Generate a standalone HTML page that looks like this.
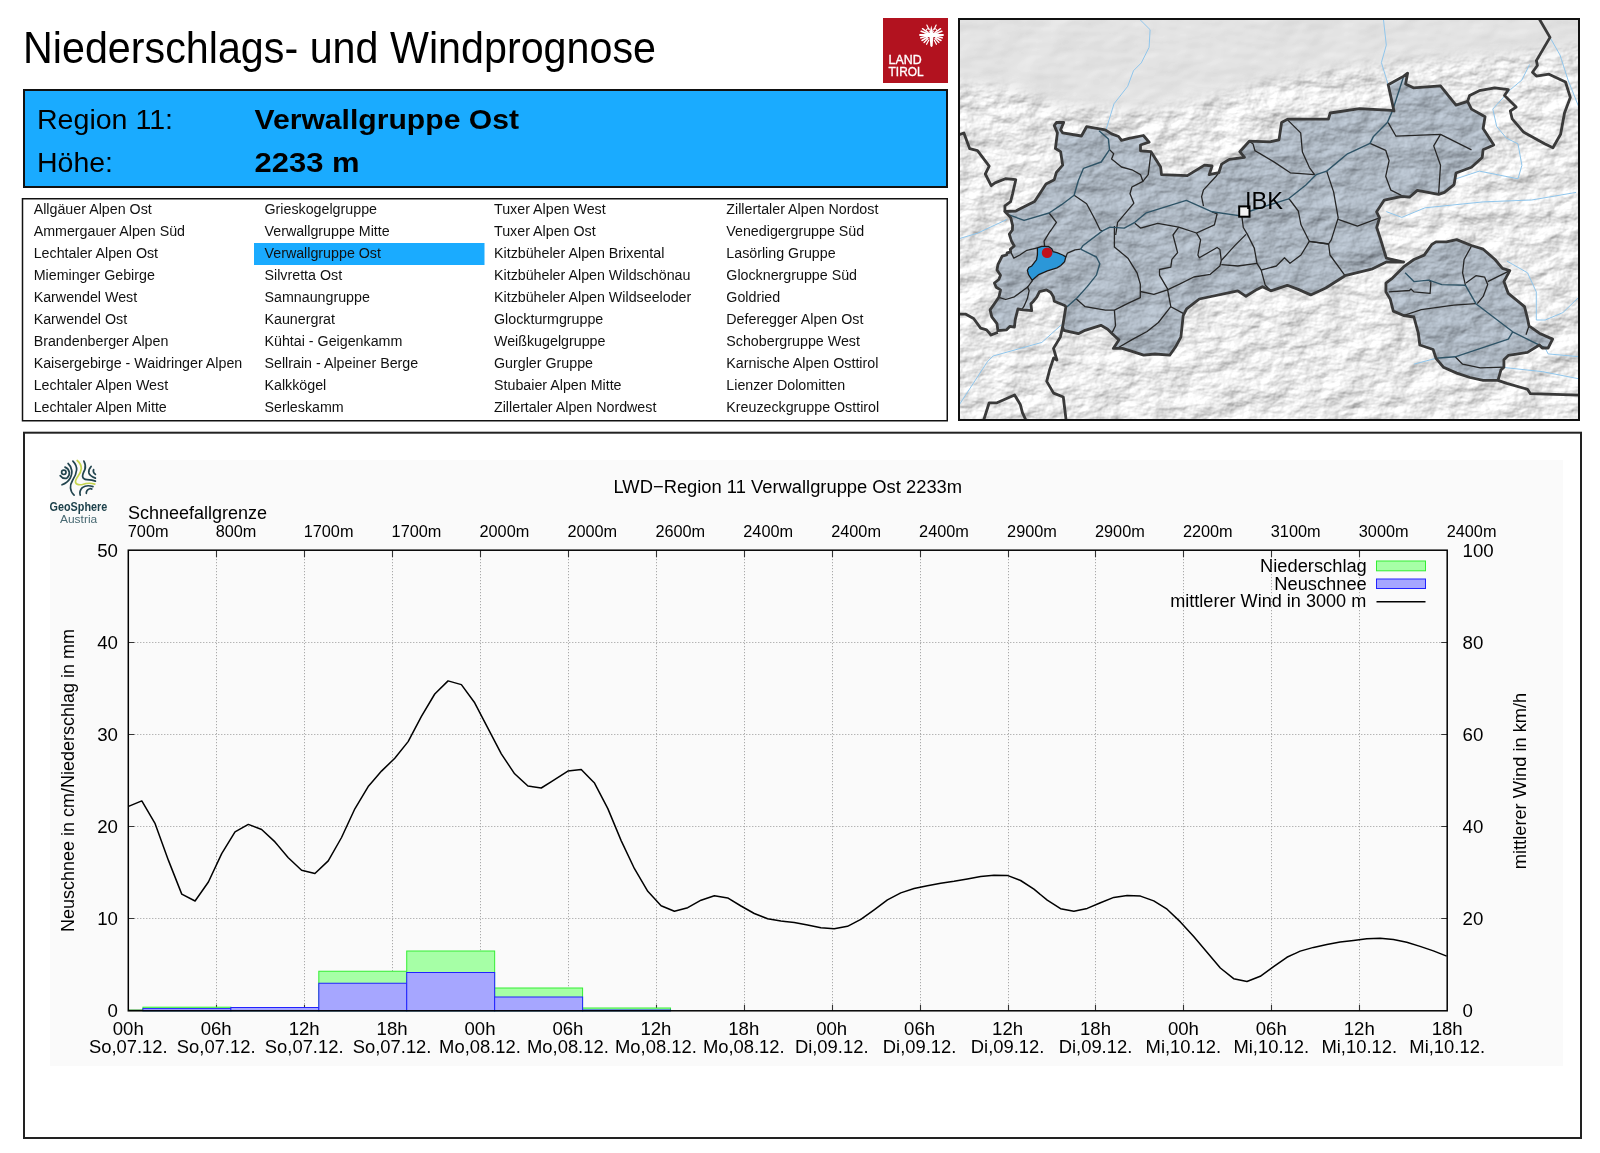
<!DOCTYPE html>
<html><head><meta charset="utf-8"><title>Niederschlags- und Windprognose</title>
<style>
html,body{margin:0;padding:0;background:#fff;width:1600px;height:1153px;overflow:hidden}
svg{display:block;will-change:transform}
text{font-family:"Liberation Sans", sans-serif}
</style></head><body>
<svg width="1600" height="1153" viewBox="0 0 1600 1153">

<text x="23" y="63" font-size="44.6" textLength="633" lengthAdjust="spacingAndGlyphs">Niederschlags- und Windprognose</text>
<rect x="883" y="18" width="65" height="65" fill="#b2121f"/>
<text x="888.6" y="64.2" font-size="12.6" fill="#fff" stroke="#fff" stroke-width="0.35" textLength="33" lengthAdjust="spacingAndGlyphs">LAND</text>
<text x="888.6" y="76" font-size="12.6" fill="#fff" stroke="#fff" stroke-width="0.35" textLength="35" lengthAdjust="spacingAndGlyphs">TIROL</text>
<g stroke="#fff" stroke-linecap="round" fill="none"><line x1="927.74" y1="33.63" x2="921.16" y2="31.24" stroke-width="1.6"/><line x1="927.40" y1="32.13" x2="922.49" y2="28.69" stroke-width="1.4"/><line x1="927.50" y1="35.00" x2="920.00" y2="35.00" stroke-width="1.8"/><line x1="927.64" y1="36.04" x2="920.87" y2="37.85" stroke-width="1.6"/><line x1="927.17" y1="37.50" x2="921.97" y2="40.50" stroke-width="1.5"/><line x1="927.96" y1="38.54" x2="924.08" y2="42.42" stroke-width="1.4"/><line x1="928.68" y1="40.30" x2="926.57" y2="44.27" stroke-width="1.3"/><line x1="935.26" y1="33.63" x2="941.84" y2="31.24" stroke-width="1.6"/><line x1="935.60" y1="32.13" x2="940.51" y2="28.69" stroke-width="1.4"/><line x1="935.50" y1="35.00" x2="943.00" y2="35.00" stroke-width="1.8"/><line x1="935.36" y1="36.04" x2="942.13" y2="37.85" stroke-width="1.6"/><line x1="935.83" y1="37.50" x2="941.03" y2="40.50" stroke-width="1.5"/><line x1="935.04" y1="38.54" x2="938.92" y2="42.42" stroke-width="1.4"/><line x1="934.32" y1="40.30" x2="936.43" y2="44.27" stroke-width="1.3"/><line x1="931.50" y1="38.00" x2="931.50" y2="46.00" stroke-width="1.8"/><line x1="928.96" y1="29.56" x2="926.85" y2="25.03" stroke-width="1.2"/><line x1="934.04" y1="29.56" x2="936.15" y2="25.03" stroke-width="1.2"/></g>
<polygon points="931.3,25.5 933.6,35 932.4,46 930.6,46 929.2,35" fill="#fff"/>
<ellipse cx="931.5" cy="35" rx="9" ry="2.2" fill="#fff"/>
<g fill="none" stroke="#fff" stroke-width="1"><circle cx="928.2" cy="30.5" r="1.9"/><circle cx="934.8" cy="30.5" r="1.9"/></g>
<rect x="24" y="90" width="923" height="97" fill="#1aabff" stroke="#111" stroke-width="2"/>
<text x="37" y="129.2" font-size="28.5" textLength="136" lengthAdjust="spacingAndGlyphs">Region 11:</text>
<text x="37" y="171.8" font-size="28.5" textLength="76" lengthAdjust="spacingAndGlyphs">Höhe:</text>
<text x="254.5" y="129.1" font-size="28.5" font-weight="bold" textLength="264.5" lengthAdjust="spacingAndGlyphs">Verwallgruppe Ost</text>
<text x="254.5" y="172" font-size="28.5" font-weight="bold" textLength="105" lengthAdjust="spacingAndGlyphs">2233 m</text>
<rect x="22.5" y="198.75" width="924.75" height="222" fill="#fff" stroke="#111" stroke-width="1.5"/>
<rect x="254" y="243" width="230.5" height="22" fill="#1aabff"/>
<g font-size="14.25" fill="#111">
<text x="33.7" y="213.7">Allgäuer Alpen Ost</text>
<text x="33.7" y="235.7">Ammergauer Alpen Süd</text>
<text x="33.7" y="257.7">Lechtaler Alpen Ost</text>
<text x="33.7" y="279.7">Mieminger Gebirge</text>
<text x="33.7" y="301.7">Karwendel West</text>
<text x="33.7" y="323.7">Karwendel Ost</text>
<text x="33.7" y="345.7">Brandenberger Alpen</text>
<text x="33.7" y="367.7">Kaisergebirge - Waidringer Alpen</text>
<text x="33.7" y="389.7">Lechtaler Alpen West</text>
<text x="33.7" y="411.7">Lechtaler Alpen Mitte</text>
<text x="264.5" y="213.7">Grieskogelgruppe</text>
<text x="264.5" y="235.7">Verwallgruppe Mitte</text>
<text x="264.5" y="257.7">Verwallgruppe Ost</text>
<text x="264.5" y="279.7">Silvretta Ost</text>
<text x="264.5" y="301.7">Samnaungruppe</text>
<text x="264.5" y="323.7">Kaunergrat</text>
<text x="264.5" y="345.7">Kühtai - Geigenkamm</text>
<text x="264.5" y="367.7">Sellrain - Alpeiner Berge</text>
<text x="264.5" y="389.7">Kalkkögel</text>
<text x="264.5" y="411.7">Serleskamm</text>
<text x="494" y="213.7">Tuxer Alpen West</text>
<text x="494" y="235.7">Tuxer Alpen Ost</text>
<text x="494" y="257.7">Kitzbüheler Alpen Brixental</text>
<text x="494" y="279.7">Kitzbüheler Alpen Wildschönau</text>
<text x="494" y="301.7">Kitzbüheler Alpen Wildseeloder</text>
<text x="494" y="323.7">Glockturmgruppe</text>
<text x="494" y="345.7">Weißkugelgruppe</text>
<text x="494" y="367.7">Gurgler Gruppe</text>
<text x="494" y="389.7">Stubaier Alpen Mitte</text>
<text x="494" y="411.7">Zillertaler Alpen Nordwest</text>
<text x="726.3" y="213.7">Zillertaler Alpen Nordost</text>
<text x="726.3" y="235.7">Venedigergruppe Süd</text>
<text x="726.3" y="257.7">Lasörling Gruppe</text>
<text x="726.3" y="279.7">Glocknergruppe Süd</text>
<text x="726.3" y="301.7">Goldried</text>
<text x="726.3" y="323.7">Deferegger Alpen Ost</text>
<text x="726.3" y="345.7">Schobergruppe West</text>
<text x="726.3" y="367.7">Karnische Alpen Osttirol</text>
<text x="726.3" y="389.7">Lienzer Dolomitten</text>
<text x="726.3" y="411.7">Kreuzeckgruppe Osttirol</text>
</g>
<defs><clipPath id="mapclip"><rect x="959" y="19" width="620" height="401"/></clipPath></defs>
<g clip-path="url(#mapclip)">
<defs>
<filter id="hsw" x="959" y="19" width="620" height="401" filterUnits="userSpaceOnUse" color-interpolation-filters="sRGB">
 <feTurbulence type="fractalNoise" baseFrequency="0.02 0.035" numOctaves="3" seed="4" result="n"/>
 <feDiffuseLighting in="n" surfaceScale="0.5" diffuseConstant="1" lighting-color="#fff" result="s"><feDistantLight azimuth="225" elevation="50"/></feDiffuseLighting>
 <feComposite in="SourceGraphic" in2="s" operator="arithmetic" k1="1.305" k2="0" k3="0.1" k4="-0.0766"/>
</filter>
<filter id="hss" x="959" y="19" width="620" height="401" filterUnits="userSpaceOnUse" color-interpolation-filters="sRGB">
 <feTurbulence type="fractalNoise" baseFrequency="0.03 0.05" numOctaves="5" seed="9" result="n"/>
 <feDiffuseLighting in="n" surfaceScale="2.6" diffuseConstant="1" lighting-color="#fff" result="s"><feDistantLight azimuth="225" elevation="60"/></feDiffuseLighting>
 <feComposite in="SourceGraphic" in2="s" operator="arithmetic" k1="1.155" k2="0" k3="0.12" k4="-0.104"/>
</filter>
<filter id="mblur"><feGaussianBlur stdDeviation="7"/></filter>
<mask id="alpsmask" maskUnits="userSpaceOnUse" x="959" y="19" width="620" height="401"><polygon points="940.0,82.0 1010.0,88.0 1060.0,106.0 1150.0,110.0 1210.0,98.0 1260.0,84.0 1330.0,70.0 1400.0,62.0 1470.0,58.0 1600.0,46.0 1600.0,440.0 940.0,440.0" fill="#fff" filter="url(#mblur)"/></mask>
</defs>
<g filter="url(#hsw)">
<rect x="959" y="19" width="620" height="401" fill="#e2e2e2"/>
<polygon points="1004.9,211.5 1015.8,211.0 1024.1,206.8 1034.6,201.6 1038.7,195.3 1046.0,183.9 1054.3,179.7 1056.4,172.4 1062.7,165.2 1060.6,151.6 1055.4,148.5 1057.4,132.9 1054.3,125.6 1056.4,122.5 1063.7,122.5 1060.6,129.8 1062.7,132.9 1081.4,136.0 1086.6,126.7 1105.3,129.8 1111.6,133.9 1118.6,136.5 1121.5,140.3 1129.1,138.4 1143.4,135.5 1149.1,142.2 1140.5,145.0 1140.5,150.8 1151.0,151.7 1160.6,167.0 1161.5,174.6 1187.3,175.6 1204.5,165.1 1212.1,166.0 1209.2,174.6 1218.8,172.7 1221.6,164.1 1229.3,159.4 1244.5,157.4 1239.8,151.7 1249.3,141.2 1270.0,141.8 1279.0,139.9 1281.6,122.5 1287.7,119.1 1328.4,119.1 1330.2,113.0 1359.6,108.7 1390.9,110.4 1394.0,111.0 1388.2,84.8 1403.7,76.1 1407.6,73.2 1405.6,83.9 1413.4,87.8 1440.5,85.8 1456.0,105.2 1467.6,101.3 1471.5,109.1 1485.1,116.8 1483.1,128.4 1493.8,144.9 1483.1,149.8 1482.2,157.5 1471.5,167.2 1456.0,173.0 1454.1,184.6 1444.4,192.4 1438.6,194.3 1417.3,190.4 1409.5,197.2 1401.8,196.3 1384.3,200.1 1376.6,211.8 1379.5,217.9 1376.7,227.5 1380.4,238.8 1386.3,258.1 1403.7,262.0 1386.3,261.9 1372.6,268.8 1345.0,275.7 1325.8,288.0 1310.7,294.9 1298.3,289.4 1287.3,285.3 1270.8,290.8 1262.5,286.7 1257.0,289.4 1246.0,296.3 1237.8,290.8 1199.3,299.0 1186.6,308.9 1183.2,315.7 1180.9,337.1 1175.3,347.3 1169.7,355.2 1155.0,354.0 1143.7,355.2 1133.6,351.8 1122.3,348.4 1113.3,348.4 1118.9,339.9 1112.2,333.7 1107.7,329.2 1100.9,325.3 1085.1,330.3 1078.3,333.7 1063.7,330.3 1062.6,327.0 1065.9,306.7 1064.7,305.5 1054.3,301.2 1053.4,296.8 1050.8,292.5 1046.5,289.9 1039.5,291.6 1036.9,296.8 1033.5,301.2 1030.9,303.8 1031.7,310.7 1023.1,309.9 1017.9,309.0 1015.3,319.4 1014.4,327.2 1010.0,326.3 1006.6,329.8 997.9,330.7 997.0,323.7 991.8,316.8 990.1,309.9 994.4,303.8 998.8,297.3 999.6,294.2 1000.5,289.9 996.2,287.3 994.4,283.0 998.8,279.5 1000.5,275.2 997.0,270.0 997.9,264.7 1002.2,256.1 1006.5,255.0 1007.2,252.9 1010.7,251.9 1010.3,249.4 1014.2,246.0 1011.4,240.8 1009.3,234.2 1012.4,230.0 1012.6,225.4 1010.7,217.6" fill="#abb5c0"/>
<polygon points="1385.9,283.1 1391.8,278.7 1403.6,266.9 1413.9,259.5 1424.2,255.1 1431.6,244.7 1436.0,241.8 1446.4,241.8 1456.7,239.6 1471.4,245.5 1483.2,249.2 1495.0,259.5 1502.4,268.3 1509.8,270.6 1503.9,281.6 1508.3,293.4 1524.5,306.7 1527.5,318.5 1529.0,325.9 1539.3,333.2 1552.6,339.1 1548.1,348.0 1542.2,348.0 1539.3,345.0 1527.5,352.4 1508.3,355.4 1503.9,359.8 1503.9,367.2 1500.9,370.1 1498.0,380.4 1483.2,380.4 1470.0,377.5 1456.7,373.1 1443.4,367.2 1436.0,358.3 1433.1,349.5 1419.8,345.0 1418.3,333.2 1413.9,317.0 1403.6,315.5 1393.3,311.1 1390.3,299.3 1385.9,291.9" fill="#abb5c0"/>
</g>
<g mask="url(#alpsmask)"><g filter="url(#hss)">
<rect x="959" y="19" width="620" height="401" fill="#eaeaea"/>
<polygon points="1004.9,211.5 1015.8,211.0 1024.1,206.8 1034.6,201.6 1038.7,195.3 1046.0,183.9 1054.3,179.7 1056.4,172.4 1062.7,165.2 1060.6,151.6 1055.4,148.5 1057.4,132.9 1054.3,125.6 1056.4,122.5 1063.7,122.5 1060.6,129.8 1062.7,132.9 1081.4,136.0 1086.6,126.7 1105.3,129.8 1111.6,133.9 1118.6,136.5 1121.5,140.3 1129.1,138.4 1143.4,135.5 1149.1,142.2 1140.5,145.0 1140.5,150.8 1151.0,151.7 1160.6,167.0 1161.5,174.6 1187.3,175.6 1204.5,165.1 1212.1,166.0 1209.2,174.6 1218.8,172.7 1221.6,164.1 1229.3,159.4 1244.5,157.4 1239.8,151.7 1249.3,141.2 1270.0,141.8 1279.0,139.9 1281.6,122.5 1287.7,119.1 1328.4,119.1 1330.2,113.0 1359.6,108.7 1390.9,110.4 1394.0,111.0 1388.2,84.8 1403.7,76.1 1407.6,73.2 1405.6,83.9 1413.4,87.8 1440.5,85.8 1456.0,105.2 1467.6,101.3 1471.5,109.1 1485.1,116.8 1483.1,128.4 1493.8,144.9 1483.1,149.8 1482.2,157.5 1471.5,167.2 1456.0,173.0 1454.1,184.6 1444.4,192.4 1438.6,194.3 1417.3,190.4 1409.5,197.2 1401.8,196.3 1384.3,200.1 1376.6,211.8 1379.5,217.9 1376.7,227.5 1380.4,238.8 1386.3,258.1 1403.7,262.0 1386.3,261.9 1372.6,268.8 1345.0,275.7 1325.8,288.0 1310.7,294.9 1298.3,289.4 1287.3,285.3 1270.8,290.8 1262.5,286.7 1257.0,289.4 1246.0,296.3 1237.8,290.8 1199.3,299.0 1186.6,308.9 1183.2,315.7 1180.9,337.1 1175.3,347.3 1169.7,355.2 1155.0,354.0 1143.7,355.2 1133.6,351.8 1122.3,348.4 1113.3,348.4 1118.9,339.9 1112.2,333.7 1107.7,329.2 1100.9,325.3 1085.1,330.3 1078.3,333.7 1063.7,330.3 1062.6,327.0 1065.9,306.7 1064.7,305.5 1054.3,301.2 1053.4,296.8 1050.8,292.5 1046.5,289.9 1039.5,291.6 1036.9,296.8 1033.5,301.2 1030.9,303.8 1031.7,310.7 1023.1,309.9 1017.9,309.0 1015.3,319.4 1014.4,327.2 1010.0,326.3 1006.6,329.8 997.9,330.7 997.0,323.7 991.8,316.8 990.1,309.9 994.4,303.8 998.8,297.3 999.6,294.2 1000.5,289.9 996.2,287.3 994.4,283.0 998.8,279.5 1000.5,275.2 997.0,270.0 997.9,264.7 1002.2,256.1 1006.5,255.0 1007.2,252.9 1010.7,251.9 1010.3,249.4 1014.2,246.0 1011.4,240.8 1009.3,234.2 1012.4,230.0 1012.6,225.4 1010.7,217.6" fill="#abb5c0"/>
<polygon points="1385.9,283.1 1391.8,278.7 1403.6,266.9 1413.9,259.5 1424.2,255.1 1431.6,244.7 1436.0,241.8 1446.4,241.8 1456.7,239.6 1471.4,245.5 1483.2,249.2 1495.0,259.5 1502.4,268.3 1509.8,270.6 1503.9,281.6 1508.3,293.4 1524.5,306.7 1527.5,318.5 1529.0,325.9 1539.3,333.2 1552.6,339.1 1548.1,348.0 1542.2,348.0 1539.3,345.0 1527.5,352.4 1508.3,355.4 1503.9,359.8 1503.9,367.2 1500.9,370.1 1498.0,380.4 1483.2,380.4 1470.0,377.5 1456.7,373.1 1443.4,367.2 1436.0,358.3 1433.1,349.5 1419.8,345.0 1418.3,333.2 1413.9,317.0 1403.6,315.5 1393.3,311.1 1390.3,299.3 1385.9,291.9" fill="#abb5c0"/>
</g></g>
<polyline points="1139.4,19.0 1150.1,29.7 1149.1,47.3 1141.3,62.9 1133.5,70.7 1127.7,86.3 1114.0,103.8 1106.2,129.2" fill="none" stroke="#90c6ec" stroke-width="1"/>
<polyline points="1383.4,19.0 1386.3,45.1 1381.4,62.6 1388.2,84.8" fill="none" stroke="#90c6ec" stroke-width="1"/>
<polyline points="1529.6,64.5 1521.9,80.0 1510.3,89.7 1492.8,109.1 1496.7,126.5 1506.4,138.1 1518.0,143.9 1521.9,165.3 1518.0,178.8 1479.3,171.1 1456.0,178.8" fill="none" stroke="#90c6ec" stroke-width="1"/>
<polyline points="1386.3,211.6 1401.8,217.4 1425.0,207.8 1483.1,201.9 1531.6,200.0 1576.1,192.4" fill="none" stroke="#90c6ec" stroke-width="1"/>
<polyline points="1413.9,364.2 1436.0,358.3" fill="none" stroke="#90c6ec" stroke-width="1"/>
<polyline points="1500.9,367.2 1542.2,371.6 1580.0,379.0" fill="none" stroke="#90c6ec" stroke-width="1"/>
<polyline points="1545.2,348.0 1548.1,353.9 1580.0,356.8" fill="none" stroke="#90c6ec" stroke-width="1"/>
<polyline points="1506.8,261.0 1527.5,272.8 1536.3,291.9 1536.3,320.0 1545.2,320.0 1562.9,312.6 1580.0,296.0" fill="none" stroke="#90c6ec" stroke-width="1"/>
<polyline points="958.0,239.0 977.5,233.2 1006.8,219.5" fill="none" stroke="#90c6ec" stroke-width="1"/>
<polyline points="958.0,406.7 987.3,361.9 993.1,356.0 1041.9,342.4 1061.4,324.8" fill="none" stroke="#90c6ec" stroke-width="1"/>
<polyline points="1550.0,37.4 1560.0,55.0 1568.0,80.0 1580.0,110.0" fill="none" stroke="#90c6ec" stroke-width="1"/>
<polyline points="1109.5,149.6 1113.7,153.7 1111.6,158.9 1121.5,167.0 1131.9,169.8 1140.5,174.6 1142.9,181.3 1131.9,187.0 1130.0,193.7 1133.9,203.2 1117.6,222.3 1115.7,235.0" fill="none" stroke="#262626" stroke-width="1.3" stroke-linejoin="round"/>
<polyline points="1151.0,152.7 1148.2,174.6 1142.9,181.3" fill="none" stroke="#262626" stroke-width="1.3" stroke-linejoin="round"/>
<polyline points="1074.1,195.3 1086.6,203.7 1094.9,219.3 1100.1,230.0 1102.5,230.9" fill="none" stroke="#262626" stroke-width="1.3" stroke-linejoin="round"/>
<polyline points="1049.1,213.0 1056.4,222.4 1051.2,230.0 1049.4,232.4 1044.1,241.2 1044.6,246.4" fill="none" stroke="#262626" stroke-width="1.3" stroke-linejoin="round"/>
<polyline points="1010.7,251.9 1013.8,258.1 1019.8,255.0 1026.9,250.3 1037.4,247.9" fill="none" stroke="#262626" stroke-width="1.3" stroke-linejoin="round"/>
<polyline points="1114.4,226.0 1114.4,246.9 1127.9,258.2 1137.0,272.8 1140.3,284.1 1140.3,297.7 1127.9,303.3 1114.4,310.1 1105.4,310.1 1085.1,306.7 1076.1,298.8" fill="none" stroke="#262626" stroke-width="1.3" stroke-linejoin="round"/>
<polyline points="1114.4,310.1 1115.5,325.8 1112.2,332.6" fill="none" stroke="#262626" stroke-width="1.3" stroke-linejoin="round"/>
<polyline points="1134.8,223.3 1140.5,228.1 1157.7,223.3 1178.7,227.1 1196.5,233.0 1214.4,224.8 1217.1,213.8 1212.1,211.8" fill="none" stroke="#262626" stroke-width="1.3" stroke-linejoin="round"/>
<polyline points="1178.7,227.1 1173.0,235.0 1177.6,252.6 1171.9,259.3 1170.8,267.2 1159.5,269.5 1159.5,275.1 1167.4,288.6 1170.8,306.7 1183.2,313.4" fill="none" stroke="#262626" stroke-width="1.3" stroke-linejoin="round"/>
<polyline points="1140.3,291.5 1153.9,294.3 1167.4,289.8 1180.0,283.9" fill="none" stroke="#262626" stroke-width="1.3" stroke-linejoin="round"/>
<polyline points="1170.8,306.7 1158.4,322.5 1147.1,331.5 1132.5,339.4 1118.9,347.3" fill="none" stroke="#262626" stroke-width="1.3" stroke-linejoin="round"/>
<polyline points="1196.5,233.0 1200.6,239.9 1197.9,255.0 1199.3,257.8 1217.1,247.5 1219.9,249.5 1221.3,260.5 1219.9,266.0 1210.3,274.3 1193.8,277.0 1180.0,283.9" fill="none" stroke="#262626" stroke-width="1.3" stroke-linejoin="round"/>
<polyline points="1221.3,260.5 1235.0,245.4 1246.0,234.4" fill="none" stroke="#262626" stroke-width="1.3" stroke-linejoin="round"/>
<polyline points="1241.9,216.5 1243.3,227.5 1247.4,234.4 1254.3,248.1 1257.0,263.3 1261.2,270.2 1265.3,285.3 1270.8,290.8" fill="none" stroke="#262626" stroke-width="1.3" stroke-linejoin="round"/>
<polyline points="1221.3,264.6 1237.8,266.0 1257.0,263.3" fill="none" stroke="#262626" stroke-width="1.3" stroke-linejoin="round"/>
<polyline points="1261.2,270.2 1276.3,266.0 1284.5,257.8 1290.0,263.3 1301.0,255.0 1309.3,241.3 1328.6,244.0" fill="none" stroke="#262626" stroke-width="1.3" stroke-linejoin="round"/>
<polyline points="1203.5,206.1 1201.6,196.6 1203.5,189.9 1215.9,176.5 1218.8,172.7" fill="none" stroke="#262626" stroke-width="1.3" stroke-linejoin="round"/>
<polyline points="1249.3,141.2 1253.1,144.1 1255.0,150.8 1260.0,153.6 1274.7,162.4 1290.3,172.8 1314.6,174.6" fill="none" stroke="#262626" stroke-width="1.3" stroke-linejoin="round"/>
<polyline points="1286.8,119.1 1300.7,132.9 1302.4,152.0 1309.4,167.6 1314.6,174.6" fill="none" stroke="#262626" stroke-width="1.3" stroke-linejoin="round"/>
<polyline points="1326.7,171.1 1333.6,191.9 1338.2,217.9 1331.3,239.9 1328.6,244.0 1309.3,241.3 1301.0,224.8 1298.3,211.0 1290.0,200.0 1288.6,198.8" fill="none" stroke="#262626" stroke-width="1.3" stroke-linejoin="round"/>
<polyline points="1338.2,219.3 1357.4,226.1 1379.5,217.9" fill="none" stroke="#262626" stroke-width="1.3" stroke-linejoin="round"/>
<polyline points="1370.0,143.4 1385.7,150.3 1389.1,160.7 1385.7,176.3 1390.9,190.2 1401.3,195.4" fill="none" stroke="#262626" stroke-width="1.3" stroke-linejoin="round"/>
<polyline points="1388.2,122.6 1396.0,136.2 1440.5,134.3 1471.5,149.8" fill="none" stroke="#262626" stroke-width="1.3" stroke-linejoin="round"/>
<polyline points="1440.5,134.3 1433.7,145.9 1440.5,165.3 1438.6,194.3" fill="none" stroke="#262626" stroke-width="1.3" stroke-linejoin="round"/>
<polyline points="1328.6,244.0 1330.0,255.0 1345.0,275.7" fill="none" stroke="#262626" stroke-width="1.3" stroke-linejoin="round"/>
<polyline points="1022.2,309.0 1023.9,306.4 1027.4,298.6 1029.1,290.8 1027.4,286.4" fill="none" stroke="#262626" stroke-width="1.3" stroke-linejoin="round"/>
<polyline points="1032.6,280.4 1027.4,287.3 1014.4,296.8 1005.7,299.5 998.8,297.3" fill="none" stroke="#262626" stroke-width="1.3" stroke-linejoin="round"/>
<polyline points="1065.8,256.9 1067.5,253.1 1075.0,249.8 1080.6,249.2" fill="none" stroke="#262626" stroke-width="1.3" stroke-linejoin="round"/>
<polyline points="1388.8,291.9 1409.5,290.5 1411.0,289.0 1413.9,291.9 1430.1,293.4 1430.9,281.6 1428.7,280.1" fill="none" stroke="#262626" stroke-width="1.3" stroke-linejoin="round"/>
<polyline points="1403.6,315.5 1421.3,309.6 1453.7,305.2 1475.9,303.7" fill="none" stroke="#262626" stroke-width="1.3" stroke-linejoin="round"/>
<polyline points="1465.5,285.3 1462.6,272.8 1464.1,259.5 1471.4,246.2" fill="none" stroke="#262626" stroke-width="1.3" stroke-linejoin="round"/>
<polyline points="1466.0,283.0 1475.9,275.7 1484.7,277.2 1487.7,284.6 1483.2,296.4 1477.3,303.7" fill="none" stroke="#262626" stroke-width="1.3" stroke-linejoin="round"/>
<polyline points="1487.7,281.6 1509.8,270.6" fill="none" stroke="#262626" stroke-width="1.3" stroke-linejoin="round"/>
<polyline points="1455.2,356.8 1462.6,364.2 1480.3,367.9 1503.9,367.2" fill="none" stroke="#262626" stroke-width="1.3" stroke-linejoin="round"/>
<polyline points="1529.0,325.9 1526.0,334.7" fill="none" stroke="#262626" stroke-width="1.3" stroke-linejoin="round"/>
<polyline points="1080.6,249.2 1096.4,257.0 1099.8,263.8 1096.4,275.1 1087.4,286.4 1077.2,297.7 1067.1,306.7" fill="none" stroke="#2e5366" stroke-width="1.4" stroke-linejoin="round"/>
<polyline points="1099.1,130.8 1108.4,139.1 1109.5,149.6 1101.2,162.0 1083.5,168.3 1078.3,180.8 1074.1,195.3 1061.6,204.7 1049.1,213.0 1024.1,220.3 1009.6,215.1" fill="none" stroke="#2e5366" stroke-width="1.4" stroke-linejoin="round"/>
<polyline points="1080.6,249.2 1082.8,245.8 1102.5,230.9 1110.0,227.1 1124.3,228.1 1134.8,222.3 1146.3,212.8 1186.3,200.4 1212.1,211.8 1238.8,215.6 1250.4,211.0 1288.6,198.8 1305.9,185.0 1316.3,174.6 1326.7,171.1 1347.5,153.8 1370.0,143.4 1373.5,136.4 1387.4,122.5 1392.6,110.4 1396.0,100.0 1403.7,76.1" fill="none" stroke="#2e5366" stroke-width="1.4" stroke-linejoin="round"/>
<polyline points="1405.1,272.8 1413.9,281.6 1428.7,280.1 1441.9,284.6 1465.5,285.3 1475.9,303.7 1512.7,331.8 1545.2,348.0" fill="none" stroke="#2e5366" stroke-width="1.4" stroke-linejoin="round"/>
<polyline points="1512.7,331.8 1508.3,339.1 1455.2,356.8 1436.0,358.3" fill="none" stroke="#2e5366" stroke-width="1.4" stroke-linejoin="round"/>
<polygon points="1037.4,247.9 1041.7,246.4 1048.4,246.4 1051.7,248.8 1053.1,251.7 1057.0,252.6 1062.7,255.0 1065.8,256.9 1064.6,261.7 1060.8,265.5 1057.0,267.9 1047.4,270.8 1038.8,274.6 1032.2,280.3 1028.4,274.6 1027.4,270.3 1028.8,267.4 1031.7,266.0 1036.5,259.8 1037.4,255.0" fill="#2b97d8" stroke="#1a1a1a" stroke-width="1.3"/>
<polygon points="1004.9,211.5 1015.8,211.0 1024.1,206.8 1034.6,201.6 1038.7,195.3 1046.0,183.9 1054.3,179.7 1056.4,172.4 1062.7,165.2 1060.6,151.6 1055.4,148.5 1057.4,132.9 1054.3,125.6 1056.4,122.5 1063.7,122.5 1060.6,129.8 1062.7,132.9 1081.4,136.0 1086.6,126.7 1105.3,129.8 1111.6,133.9 1118.6,136.5 1121.5,140.3 1129.1,138.4 1143.4,135.5 1149.1,142.2 1140.5,145.0 1140.5,150.8 1151.0,151.7 1160.6,167.0 1161.5,174.6 1187.3,175.6 1204.5,165.1 1212.1,166.0 1209.2,174.6 1218.8,172.7 1221.6,164.1 1229.3,159.4 1244.5,157.4 1239.8,151.7 1249.3,141.2 1270.0,141.8 1279.0,139.9 1281.6,122.5 1287.7,119.1 1328.4,119.1 1330.2,113.0 1359.6,108.7 1390.9,110.4 1394.0,111.0 1388.2,84.8 1403.7,76.1 1407.6,73.2 1405.6,83.9 1413.4,87.8 1440.5,85.8 1456.0,105.2 1467.6,101.3 1471.5,109.1 1485.1,116.8 1483.1,128.4 1493.8,144.9 1483.1,149.8 1482.2,157.5 1471.5,167.2 1456.0,173.0 1454.1,184.6 1444.4,192.4 1438.6,194.3 1417.3,190.4 1409.5,197.2 1401.8,196.3 1384.3,200.1 1376.6,211.8 1379.5,217.9 1376.7,227.5 1380.4,238.8 1386.3,258.1 1403.7,262.0 1386.3,261.9 1372.6,268.8 1345.0,275.7 1325.8,288.0 1310.7,294.9 1298.3,289.4 1287.3,285.3 1270.8,290.8 1262.5,286.7 1257.0,289.4 1246.0,296.3 1237.8,290.8 1199.3,299.0 1186.6,308.9 1183.2,315.7 1180.9,337.1 1175.3,347.3 1169.7,355.2 1155.0,354.0 1143.7,355.2 1133.6,351.8 1122.3,348.4 1113.3,348.4 1118.9,339.9 1112.2,333.7 1107.7,329.2 1100.9,325.3 1085.1,330.3 1078.3,333.7 1063.7,330.3 1062.6,327.0 1065.9,306.7 1064.7,305.5 1054.3,301.2 1053.4,296.8 1050.8,292.5 1046.5,289.9 1039.5,291.6 1036.9,296.8 1033.5,301.2 1030.9,303.8 1031.7,310.7 1023.1,309.9 1017.9,309.0 1015.3,319.4 1014.4,327.2 1010.0,326.3 1006.6,329.8 997.9,330.7 997.0,323.7 991.8,316.8 990.1,309.9 994.4,303.8 998.8,297.3 999.6,294.2 1000.5,289.9 996.2,287.3 994.4,283.0 998.8,279.5 1000.5,275.2 997.0,270.0 997.9,264.7 1002.2,256.1 1006.5,255.0 1007.2,252.9 1010.7,251.9 1010.3,249.4 1014.2,246.0 1011.4,240.8 1009.3,234.2 1012.4,230.0 1012.6,225.4 1010.7,217.6" fill="none" stroke="#3a3a3a" stroke-width="2.8" stroke-linejoin="round"/>
<polygon points="1385.9,283.1 1391.8,278.7 1403.6,266.9 1413.9,259.5 1424.2,255.1 1431.6,244.7 1436.0,241.8 1446.4,241.8 1456.7,239.6 1471.4,245.5 1483.2,249.2 1495.0,259.5 1502.4,268.3 1509.8,270.6 1503.9,281.6 1508.3,293.4 1524.5,306.7 1527.5,318.5 1529.0,325.9 1539.3,333.2 1552.6,339.1 1548.1,348.0 1542.2,348.0 1539.3,345.0 1527.5,352.4 1508.3,355.4 1503.9,359.8 1503.9,367.2 1500.9,370.1 1498.0,380.4 1483.2,380.4 1470.0,377.5 1456.7,373.1 1443.4,367.2 1436.0,358.3 1433.1,349.5 1419.8,345.0 1418.3,333.2 1413.9,317.0 1403.6,315.5 1393.3,311.1 1390.3,299.3 1385.9,291.9" fill="none" stroke="#3a3a3a" stroke-width="2.8" stroke-linejoin="round"/>
<polyline points="958.0,135.0 963.9,133.0 969.7,148.7 977.5,150.6 989.2,166.2 985.3,174.0 991.2,185.7 995.0,182.9 1005.4,178.7 1015.8,179.7 1012.7,193.3 1010.6,201.6 1004.9,205.8 1004.9,211.5" fill="none" stroke="#3a3a3a" stroke-width="2.8" stroke-linejoin="round"/>
<polyline points="958.0,314.2 965.8,314.2 973.6,318.5 980.6,328.1 986.6,329.8 991.0,335.0 997.9,332.4" fill="none" stroke="#3a3a3a" stroke-width="2.8" stroke-linejoin="round"/>
<polyline points="1062.6,327.0 1060.3,337.1 1053.5,348.4 1056.9,360.0 1053.6,358.0 1049.7,369.7 1046.7,381.4 1053.6,393.1 1063.3,397.0 1066.2,421.0" fill="none" stroke="#3a3a3a" stroke-width="2.8" stroke-linejoin="round"/>
<polyline points="983.4,421.0 989.2,402.8 997.0,402.8 1014.6,395.0 1020.4,404.8 1022.4,412.6 1026.3,421.0" fill="none" stroke="#3a3a3a" stroke-width="2.8" stroke-linejoin="round"/>
<polyline points="1539.3,19.0 1550.0,37.4 1536.4,60.6 1537.4,65.5 1532.5,72.3 1536.4,76.1 1549.0,74.2 1565.5,82.0 1570.3,97.4 1564.5,112.9 1560.6,134.3 1552.9,147.8 1545.1,143.9 1523.8,132.3 1512.2,118.8 1510.3,111.0 1516.1,107.1 1504.5,95.5 1508.3,89.7 1494.8,87.8 1479.3,90.7 1469.6,95.5 1467.6,101.3" fill="none" stroke="#3a3a3a" stroke-width="2.8" stroke-linejoin="round"/>
<polyline points="1498.0,380.4 1506.8,383.4 1527.5,389.3 1530.4,393.7 1580.0,395.2" fill="none" stroke="#3a3a3a" stroke-width="2.8" stroke-linejoin="round"/>
<circle cx="1047.1" cy="252.7" r="5.3" fill="#c0101c"/>
<rect x="1239.2" y="206.4" width="10.3" height="10.3" fill="#f2f2f2" stroke="#000" stroke-width="2"/>
<text x="1245" y="208.8" font-size="24" textLength="38" lengthAdjust="spacingAndGlyphs">IBK</text>
</g>
<rect x="959" y="19" width="620" height="401" fill="none" stroke="#111" stroke-width="2"/>
<rect x="24" y="432.7" width="1557" height="705.3" fill="#fff" stroke="#222" stroke-width="2"/>
<rect x="50" y="460" width="1513" height="606" fill="#fafafa"/>
<path d="M216.5 550.2V1010.8M304.5 550.2V1010.8M392.5 550.2V1010.8M480.5 550.2V1010.8M568.5 550.2V1010.8M656.5 550.2V1010.8M744.5 550.2V1010.8M832.5 550.2V1010.8M920.5 550.2V1010.8M1008.5 550.2V1010.8M1095.5 550.2V1010.8M1183.5 550.2V1010.8M1271.5 550.2V1010.8M1359.5 550.2V1010.8M128.3 918.5H1447.2M128.3 826.5H1447.2M128.3 734.5H1447.2M128.3 642.5H1447.2" stroke="#989898" stroke-width="1" stroke-dasharray="1 2" fill="none"/>
<path d="M216.5 550.2v7M216.5 1010.8v-6M304.5 550.2v7M304.5 1010.8v-6M392.5 550.2v7M392.5 1010.8v-6M480.5 550.2v7M480.5 1010.8v-6M568.5 550.2v7M568.5 1010.8v-6M656.5 550.2v7M656.5 1010.8v-6M744.5 550.2v7M744.5 1010.8v-6M832.5 550.2v7M832.5 1010.8v-6M920.5 550.2v7M920.5 1010.8v-6M1008.5 550.2v7M1008.5 1010.8v-6M1095.5 550.2v7M1095.5 1010.8v-6M1183.5 550.2v7M1183.5 1010.8v-6M1271.5 550.2v7M1271.5 1010.8v-6M1359.5 550.2v7M1359.5 1010.8v-6M128.3 918.5h6M1447.2 918.5h-6M128.3 826.5h6M1447.2 826.5h-6M128.3 734.5h6M1447.2 734.5h-6M128.3 642.5h6M1447.2 642.5h-6" stroke="#333" stroke-width="1.1" fill="none"/>
<rect x="142.95" y="1007.2" width="87.93" height="3.60" fill="#a6ffa6" stroke="#33ee33" stroke-width="1"/>
<rect x="230.88" y="1007.5" width="87.93" height="3.30" fill="#a6ffa6" stroke="#33ee33" stroke-width="1"/>
<rect x="318.81" y="971.25" width="87.93" height="39.55" fill="#a6ffa6" stroke="#33ee33" stroke-width="1"/>
<rect x="406.73" y="951" width="87.93" height="59.80" fill="#a6ffa6" stroke="#33ee33" stroke-width="1"/>
<rect x="494.66" y="988" width="87.93" height="22.80" fill="#a6ffa6" stroke="#33ee33" stroke-width="1"/>
<rect x="582.59" y="1008" width="87.93" height="2.80" fill="#a6ffa6" stroke="#33ee33" stroke-width="1"/>
<rect x="142.95" y="1008.6" width="87.93" height="2.20" fill="#a6a6ff" stroke="#2222ff" stroke-width="1"/>
<rect x="230.88" y="1007.5" width="87.93" height="3.30" fill="#a6a6ff" stroke="#2222ff" stroke-width="1"/>
<rect x="318.81" y="983.25" width="87.93" height="27.55" fill="#a6a6ff" stroke="#2222ff" stroke-width="1"/>
<rect x="406.73" y="972.5" width="87.93" height="38.30" fill="#a6a6ff" stroke="#2222ff" stroke-width="1"/>
<rect x="494.66" y="997" width="87.93" height="13.80" fill="#a6a6ff" stroke="#2222ff" stroke-width="1"/>
<rect x="582.59" y="1010" width="87.93" height="0.80" fill="#a6a6ff" stroke="#2222ff" stroke-width="1"/>
<path d="M128.3 1010.3H142.95" stroke="#118811" stroke-width="1.5"/>
<polyline points="128.50,806.4 141.81,800.9 155.13,823.7 168.44,860.4 181.76,894.1 195.07,901.0 208.39,882.0 221.70,853.6 235.02,831.8 248.33,824.4 261.65,829.5 274.97,841.9 288.28,857.7 301.60,870.3 314.91,873.5 328.23,860.9 341.54,837.5 354.86,808.8 368.17,786.6 381.49,771.1 394.80,758.3 408.12,741.6 421.43,716.4 434.75,694.0 448.06,680.9 461.38,684.6 474.69,702.8 488.00,728.3 501.32,753.8 514.63,773.8 527.95,786.0 541.26,788.0 554.58,779.7 567.89,771.1 581.21,769.5 594.52,783.1 607.84,808.6 621.15,840.6 634.47,868.7 647.78,891.3 661.10,905.8 674.41,911.3 687.73,907.7 701.04,900.2 714.36,895.7 727.67,897.9 740.99,906.0 754.30,913.5 767.62,918.8 780.93,921.1 794.25,922.6 807.56,924.9 820.88,927.7 834.19,928.8 847.51,926.3 860.82,919.4 874.14,909.8 887.45,899.8 900.77,892.9 914.08,888.5 927.40,885.8 940.71,883.3 954.03,881.3 967.34,878.9 980.66,876.4 993.98,875.2 1007.29,875.4 1020.61,880.5 1033.92,889.2 1047.24,900.2 1060.55,908.7 1073.87,911.2 1087.18,908.4 1100.49,902.7 1113.81,897.4 1127.12,895.4 1140.44,896.1 1153.75,900.9 1167.07,909.2 1180.38,921.9 1193.70,936.4 1207.01,952.2 1220.33,968.0 1233.64,978.7 1246.96,981.5 1260.27,976.3 1273.59,966.6 1286.90,957.3 1300.22,951.1 1313.53,947.4 1326.85,944.6 1340.16,941.9 1353.48,940.4 1366.79,938.7 1380.11,938.3 1393.42,939.6 1406.74,942.3 1420.06,946.4 1433.37,950.9 1446.68,956.1" fill="none" stroke="#000" stroke-width="1.5" stroke-linejoin="round"/>
<rect x="128.3" y="550.2" width="1318.90" height="460.60" fill="none" stroke="#000" stroke-width="1.5"/>
<g font-size="18" fill="#000">
<text x="787.8" y="493" font-size="18.35" text-anchor="middle">LWD−Region 11 Verwallgruppe Ost 2233m</text>
<text x="128" y="519">Schneefallgrenze</text>
<text x="118" y="1017.4" font-size="18.7" text-anchor="end">0</text>
<text x="1462.5" y="1017.4" font-size="18.7">0</text>
<text x="118" y="925.3" font-size="18.7" text-anchor="end">10</text>
<text x="1462.5" y="925.3" font-size="18.7">20</text>
<text x="118" y="833.2" font-size="18.7" text-anchor="end">20</text>
<text x="1462.5" y="833.2" font-size="18.7">40</text>
<text x="118" y="741.0" font-size="18.7" text-anchor="end">30</text>
<text x="1462.5" y="741.0" font-size="18.7">60</text>
<text x="118" y="648.9" font-size="18.7" text-anchor="end">40</text>
<text x="1462.5" y="648.9" font-size="18.7">80</text>
<text x="118" y="556.8" font-size="18.7" text-anchor="end">50</text>
<text x="1462.5" y="556.8" font-size="18.7">100</text>
<text x="128.3" y="1034.6" font-size="18.6" text-anchor="middle">00h</text>
<text x="128.3" y="1052.6" font-size="18.4" text-anchor="middle">So,07.12.</text>
<text x="216.2" y="1034.6" font-size="18.6" text-anchor="middle">06h</text>
<text x="216.2" y="1052.6" font-size="18.4" text-anchor="middle">So,07.12.</text>
<text x="304.2" y="1034.6" font-size="18.6" text-anchor="middle">12h</text>
<text x="304.2" y="1052.6" font-size="18.4" text-anchor="middle">So,07.12.</text>
<text x="392.1" y="1034.6" font-size="18.6" text-anchor="middle">18h</text>
<text x="392.1" y="1052.6" font-size="18.4" text-anchor="middle">So,07.12.</text>
<text x="480.0" y="1034.6" font-size="18.6" text-anchor="middle">00h</text>
<text x="480.0" y="1052.6" font-size="18.4" text-anchor="middle">Mo,08.12.</text>
<text x="567.9" y="1034.6" font-size="18.6" text-anchor="middle">06h</text>
<text x="567.9" y="1052.6" font-size="18.4" text-anchor="middle">Mo,08.12.</text>
<text x="655.9" y="1034.6" font-size="18.6" text-anchor="middle">12h</text>
<text x="655.9" y="1052.6" font-size="18.4" text-anchor="middle">Mo,08.12.</text>
<text x="743.8" y="1034.6" font-size="18.6" text-anchor="middle">18h</text>
<text x="743.8" y="1052.6" font-size="18.4" text-anchor="middle">Mo,08.12.</text>
<text x="831.7" y="1034.6" font-size="18.6" text-anchor="middle">00h</text>
<text x="831.7" y="1052.6" font-size="18.4" text-anchor="middle">Di,09.12.</text>
<text x="919.6" y="1034.6" font-size="18.6" text-anchor="middle">06h</text>
<text x="919.6" y="1052.6" font-size="18.4" text-anchor="middle">Di,09.12.</text>
<text x="1007.6" y="1034.6" font-size="18.6" text-anchor="middle">12h</text>
<text x="1007.6" y="1052.6" font-size="18.4" text-anchor="middle">Di,09.12.</text>
<text x="1095.5" y="1034.6" font-size="18.6" text-anchor="middle">18h</text>
<text x="1095.5" y="1052.6" font-size="18.4" text-anchor="middle">Di,09.12.</text>
<text x="1183.4" y="1034.6" font-size="18.6" text-anchor="middle">00h</text>
<text x="1183.4" y="1052.6" font-size="18.4" text-anchor="middle">Mi,10.12.</text>
<text x="1271.3" y="1034.6" font-size="18.6" text-anchor="middle">06h</text>
<text x="1271.3" y="1052.6" font-size="18.4" text-anchor="middle">Mi,10.12.</text>
<text x="1359.3" y="1034.6" font-size="18.6" text-anchor="middle">12h</text>
<text x="1359.3" y="1052.6" font-size="18.4" text-anchor="middle">Mi,10.12.</text>
<text x="1447.2" y="1034.6" font-size="18.6" text-anchor="middle">18h</text>
<text x="1447.2" y="1052.6" font-size="18.4" text-anchor="middle">Mi,10.12.</text>
<text transform="translate(74 780.5) rotate(-90)" text-anchor="middle">Neuschnee in cm/Niederschlag in mm</text>
<text transform="translate(1526.3 781.0) rotate(-90)" font-size="18.25" text-anchor="middle">mittlerer Wind in km/h</text>
<text x="1366.8" y="571.6" font-size="18.3" text-anchor="end">Niederschlag</text>
<text x="1366.8" y="589.6" font-size="18.3" text-anchor="end">Neuschnee</text>
<text x="1366.3" y="607.3" font-size="18.1" text-anchor="end">mittlerer Wind in 3000 m</text>
</g>
<rect x="1376.5" y="561" width="49" height="9.8" fill="#a6ffa6" stroke="#33ee33" stroke-width="1"/>
<rect x="1376.5" y="579" width="49" height="9.5" fill="#a6a6ff" stroke="#2222ff" stroke-width="1"/>
<path d="M1376.5 601.7H1425.5" stroke="#000" stroke-width="1.5"/>
<g font-size="16.3" fill="#000">
<text x="127.8" y="536.8">700m</text>
<text x="215.7" y="536.8">800m</text>
<text x="303.7" y="536.8">1700m</text>
<text x="391.6" y="536.8">1700m</text>
<text x="479.5" y="536.8">2000m</text>
<text x="567.4" y="536.8">2000m</text>
<text x="655.4" y="536.8">2600m</text>
<text x="743.3" y="536.8">2400m</text>
<text x="831.2" y="536.8">2400m</text>
<text x="919.1" y="536.8">2400m</text>
<text x="1007.1" y="536.8">2900m</text>
<text x="1095.0" y="536.8">2900m</text>
<text x="1182.9" y="536.8">2200m</text>
<text x="1270.8" y="536.8">3100m</text>
<text x="1358.8" y="536.8">3000m</text>
<text x="1446.7" y="536.8">2400m</text>
</g>
<text x="49.6" y="510.6" font-size="12" font-weight="bold" fill="#1d414b" textLength="57.6" lengthAdjust="spacingAndGlyphs">GeoSphere</text>
<text x="60" y="522.7" font-size="11.3" fill="#496a73" textLength="37.2" lengthAdjust="spacingAndGlyphs">Austria</text>
<g fill="none" stroke="#21444e" stroke-width="1.7" stroke-linecap="round">
<circle cx="63.8" cy="472.3" r="2.2"/>
<path d="M60.2 475.6 Q63.2 479.4 66.9 478.1 Q69.8 475.8 69.3 472.4 Q68.7 468.6 65 467.1"/>
<path d="M62 484.8 Q67.5 482.8 70.3 478 Q72.4 473.3 71.7 470.2 Q70.6 465.6 68.1 463.5"/>
<path d="M72.9 461.1 Q76.9 465.2 76.6 470 Q76.2 474.8 72.6 480.3 Q70.1 484.6 70.5 488 Q70.9 492.3 74.1 495.1"/>
<path d="M83.9 461.1 Q86.3 465.5 84.9 469.5 Q82.5 474.2 82.6 476.3 Q83 479.3 87 479.6 Q92.6 480 95.4 481.1"/>
<path d="M91.1 466.5 Q88.2 469.8 88.9 473 Q89.8 476 95.4 478.1"/>
<path d="M93.6 469.6 Q92.5 472.3 95.4 474.4"/>
<path d="M80.2 495.1 Q79 491 82.3 487.6 Q86.6 484.5 93 486.6"/>
<path d="M86.3 493.3 Q86.2 489.8 89.9 488.7 Q91 488.5 91.8 489"/>
</g>
<path d="M77.2 460.5 Q81.4 464 81.3 468.6 Q80.8 473 78 476.2 Q75 480.2 75.6 482.6 Q77 485.5 82.5 484.5 Q89 482.2 94.8 484.1" fill="none" stroke="#c6d54e" stroke-width="1.7" stroke-linecap="round"/>
</svg></body></html>
